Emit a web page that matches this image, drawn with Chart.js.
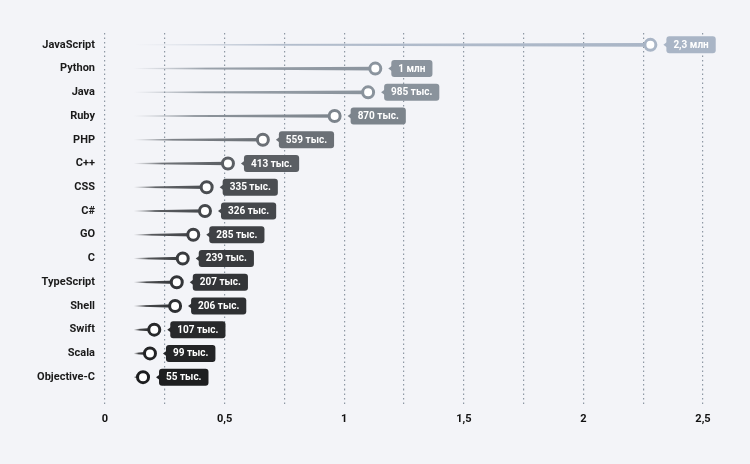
<!DOCTYPE html>
<html>
<head>
<meta charset="utf-8">
<script src="https://cdn.jsdelivr.net/npm/chart.js@4"></script>
<style>
html,body{margin:0;padding:0;background:#f3f4f8;}
#wrap{width:750px;height:464px;position:relative;}
</style>
</head>
<body>
<div id="wrap"><canvas id="c" width="750" height="464"></canvas></div>
<script>
const categories = ["JavaScript","Python","Java","Ruby","PHP","C++","CSS","C#","GO","C","TypeScript","Shell","Swift","Scala","Objective-C"];
const values = [2.28, 1.13, 1.10, 0.96, 0.66, 0.514, 0.425, 0.418, 0.369, 0.325, 0.30, 0.293, 0.206, 0.188, 0.159];
const valueLabels = ["2,3 млн","1 млн","985 тыс.","870 тыс.","559 тыс.","413 тыс.","335 тыс.","326 тыс.","285 тыс.","239 тыс.","207 тыс.","206 тыс.","107 тыс.","99 тыс.","55 тыс."];
const stemStart = 0.12;
const xTicks = [0, 0.5, 1, 1.5, 2, 2.5];
const colors = ["#a9b5c6","#8b949e","#8a939c","#7c848c","#6b7076","#5b5f64","#4b4e52","#45484c","#3f4145","#393b3e","#333538","#2e3033","#28292b","#232426","#1d1e20"];

const bgPlugin = {
  id:'bg',
  beforeDraw(chart){
    const ctx=chart.ctx; ctx.save(); ctx.fillStyle='#f3f4f8'; ctx.fillRect(0,0,chart.width,chart.height); ctx.restore();
  }
};

const stemPlugin = {
  id:'stems',
  beforeDatasetsDraw(chart){
    const ctx=chart.ctx, xs=chart.scales.x;
    const meta=chart.getDatasetMeta(0);
    const x0 = xs.getPixelForValue(stemStart);
    meta.data.forEach((pt,i)=>{
      const x1=pt.x, y=pt.y;
      const g=ctx.createLinearGradient(x0,0,x1,0);
      g.addColorStop(0, colors[i]+'00');
      g.addColorStop(0.3, colors[i]+'dd');
      g.addColorStop(1, colors[i]);
      ctx.save();
      ctx.fillStyle=g;
      ctx.beginPath();
      ctx.moveTo(x0,y-0.5);
      ctx.lineTo(x1,y-1.8);
      ctx.lineTo(x1,y+1.8);
      ctx.lineTo(x0,y+0.5);
      ctx.closePath();
      ctx.fill();
      ctx.restore();
    });
  },
  afterDatasetsDraw(chart){
    const ctx=chart.ctx;
    const meta=chart.getDatasetMeta(0);
    ctx.save();
    ctx.font='bold 10px Roboto';
    ctx.textBaseline='middle';
    meta.data.forEach((pt,i)=>{
      const txt=valueLabels[i];
      const w=ctx.measureText(txt).width+14;
      const h=17;
      const bx=pt.x+16, by=pt.y-h/2;
      ctx.fillStyle=colors[i];
      ctx.beginPath();
      ctx.roundRect(bx,by,w,h,3);
      ctx.fill();
      ctx.beginPath();
      ctx.moveTo(bx+1,pt.y-3);
      ctx.lineTo(bx-3,pt.y);
      ctx.lineTo(bx+1,pt.y+3);
      ctx.closePath();
      ctx.fill();
      ctx.fillStyle='#ffffff';
      ctx.textAlign='left';
      ctx.fillText(txt,bx+7,pt.y+0.5);
    });
    ctx.restore();
  }
};

new Chart(document.getElementById('c'),{
  type:'line',
  data:{
    labels:categories,
    datasets:[{
      data:values,
      showLine:false,
      pointRadius:5.5,
      pointHoverRadius:5.5,
      pointBorderWidth:3,
      pointBackgroundColor:'#ffffff',
      pointBorderColor:colors
    }]
  },
  options:{
    indexAxis:'y',
    responsive:false,
    animation:false,
    events:[],
    layout:{padding:{top:33,right:47,left:0,bottom:0}},
    plugins:{legend:{display:false},tooltip:{enabled:false}},
    scales:{
      x:{
        type:'linear',min:0,max:2.5,
        afterFit(s){ s.height=75; },
        afterBuildTicks(s){ const t=[]; for(let k=0;k<=10;k++){ t.push({value:k*0.25}); } s.ticks=t; },
        border:{display:false,dash:[1.5,3]},
        grid:{color:'#8e98a4',lineWidth:1.2,drawTicks:true,tickLength:18,tickColor:'#8e98a4',tickWidth:1.2,tickBorderDash:[1.5,3]},
        ticks:{
          autoSkip:false,maxRotation:0,padding:6,color:'#111',
          font:{family:'Roboto',weight:'bold',size:11},
          callback(v){ return xTicks.includes(v) ? String(v).replace('.',',') : ''; }
        }
      },
      y:{
        type:'category',offset:true,
        afterFit(s){ s.width=105; },
        border:{display:false},
        grid:{display:false},
        ticks:{padding:2,color:'#1a1a1a',font:{family:'Roboto',weight:'bold',size:11}}
      }
    }
  },
  plugins:[bgPlugin,stemPlugin]
});
</script>
</body>
</html>
